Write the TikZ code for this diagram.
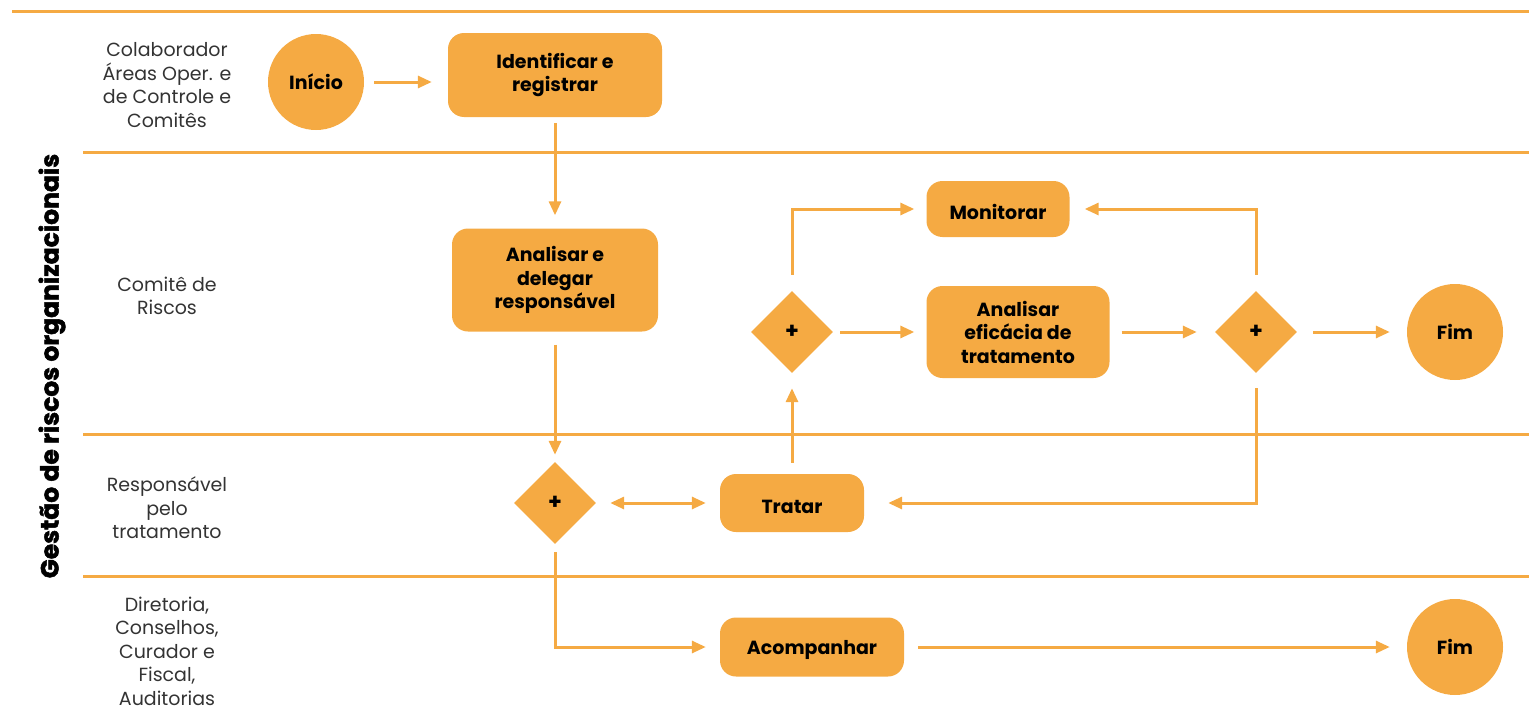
\documentclass[tikz,border=0pt]{standalone}
\usepackage{fontspec}
\setmainfont{Poppins}
\newfontfamily\heavyfont{Poppins}[FakeBold=2]
\usetikzlibrary{shapes.geometric,arrows.meta}
\definecolor{orng}{RGB}{245,170,67}
\definecolor{lbl}{RGB}{51,51,51}
\begin{document}
\begin{tikzpicture}[x=1pt,y=-1pt,
  lane/.style={draw=orng,line width=3pt},
  box/.style={fill=orng,rounded corners=16pt,align=center,font=\fontsize{19}{23.5}\selectfont\bfseries,text=black,inner sep=0pt,execute at begin node={\rule{0pt}{21pt}}},
  circ/.style={circle,fill=orng,minimum size=96pt,inner sep=0pt,font=\fontsize{19}{23.5}\selectfont\bfseries,text=black},
  gate/.style={diamond,fill=orng,minimum width=82pt,minimum height=82pt,inner sep=0pt,font=\fontsize{22}{24}\selectfont\bfseries,text=black},
  lanelabel/.style={align=center,text=lbl,font=\fontsize{19}{23.5}\selectfont},
  flow/.style={draw=orng,line width=3pt,-{Triangle[length=14pt,width=12pt]}},
  flow2/.style={draw=orng,line width=3pt,{Triangle[length=14pt,width=12pt]}-{Triangle[length=14pt,width=12pt]}}
]
\useasboundingbox (0,0) rectangle (1529,720);
% lane lines
\draw[lane] (12,11) -- (1529,11);
\draw[lane] (83,152) -- (1529,152);
\draw[lane] (83,434) -- (1529,434);
\draw[lane] (83,576) -- (1529,576);
% title
\node[rotate=90,font=\fontsize{25}{28}\heavyfont\bfseries,text=black] (title) at (52,366) {Gestão de riscos organizacionais};
% lane labels
\node[lanelabel] (l1) at (167,85) {Colaborador\\Áreas Oper. e\\de Controle e\\Comitês};
\node[lanelabel] (l2) at (167,296) {Comitê de\\Riscos};
\node[lanelabel] (l3) at (167,508) {Responsável\\pelo\\tratamento};
\node[lanelabel] (l4) at (167,651) {Diretoria,\\Conselhos,\\Curador e\\Fiscal,\\Auditorias};
% nodes
\node[circ] (inicio) at (316,82) {Início};
\node[box,minimum width=214pt,minimum height=84pt] (ident) at (555,75) {Identificar e\\registrar};
\node[box,minimum width=206pt,minimum height=103pt] (anal) at (555,280) {Analisar e\\delegar\\responsável};
\node[gate] (d1) at (555,503) {+};
\node[box,minimum width=144pt,minimum height=58pt] (tratar) at (792,503) {Tratar};
\node[gate] (d2) at (792,332) {+};
\node[box,minimum width=143pt,minimum height=56pt] (mon) at (998,209) {Monitorar};
\node[box,minimum width=183pt,minimum height=92pt] (efic) at (1018,332) {Analisar\\eficácia de\\tratamento};
\node[gate] (d3) at (1256,332) {+};
\node[circ] (fim1) at (1455,332) {Fim};
\node[box,minimum width=184pt,minimum height=59pt] (acomp) at (812,647) {Acompanhar};
\node[circ] (fim2) at (1455,647) {Fim};
% connectors
\draw[flow,shorten <=10pt,shorten >=16pt] (inicio.east) -- (inicio.east -| ident.west);
\draw[flow,shorten <=6pt,shorten >=13pt] (ident) -- (anal);
\draw[flow,shorten <=13pt,shorten >=7pt] (anal) -- (d1);
\draw[flow2,shorten <=14pt,shorten >=14pt] (d1) -- (tratar);
\draw[flow,shorten <=11pt,shorten >=15pt] (tratar) -- (d2);
\draw[flow,shorten <=16pt,shorten >=12pt] (d2.north) |- (mon.west);
\draw[flow,shorten <=7pt,shorten >=12pt] (d2) -- (efic);
\draw[flow,shorten <=12pt,shorten >=18pt] (efic) -- (d3);
\draw[flow,shorten <=16pt,shorten >=15pt] (d3.north) |- (mon.east);
\draw[flow,shorten <=16pt,shorten >=17pt] (d3) -- (fim1);
\draw[flow,shorten <=15pt,shorten >=24pt] (d3.south) |- (tratar.east);
\draw[flow,shorten <=8pt,shorten >=14pt] (d1.south) |- (acomp.west);
\draw[flow,shorten <=14pt,shorten >=17pt] (acomp) -- (fim2);
\end{tikzpicture}
\end{document}
